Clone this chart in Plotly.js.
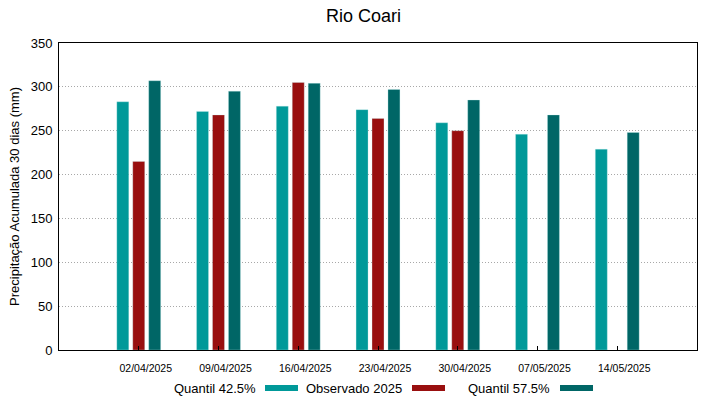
<!DOCTYPE html>
<html>
<head>
<meta charset="utf-8">
<script src="https://cdn.plot.ly/plotly-3.0.1.min.js"></script>
<style>html,body{margin:0;padding:0;background:#fff;}#chart{width:719px;height:399px;}</style>
</head>
<body>
<div id="chart"></div>
<script>
const dates = ["02/04/2025","09/04/2025","16/04/2025","23/04/2025","30/04/2025","07/05/2025","14/05/2025"];
const positions = [1,2,3,4,5,6,7];
const q425 = [283, 272, 278, 274, 259, 246, 229];
const obs2025 = [215, 268, 305, 264, 250, null, null];
const q575 = [307, 295, 304, 297, 285, 268, 248];
const names = ["Quantil 42.5%", "Observado 2025", "Quantil 57.5%"];
const colors = ["#009999", "#990f0f", "#006666"];
const seriesList = [q425, obs2025, q575];

const traces = seriesList.map((s, i) => ({
  type: 'bar', x: positions, y: s, name: names[i],
  marker: {color: colors[i], line: {color: 'rgba(200,240,240,0.6)', width: 0.5}},
  hoverinfo: 'y'
}));

const FONT = 'Liberation Sans, Arial, sans-serif';
const annotations = [{
  text: 'Rio Coari', xref: 'paper', yref: 'paper', x: 0.477, y: 1, yshift: 27,
  xanchor: 'center', yanchor: 'middle', showarrow: false,
  font: {family: FONT, size: 18, color: '#000'}
}];
const shapes = [];
const legendTextRight = [258, 404, 552];
const swatchX = [[265, 298], [412, 445], [560, 593]];
const W = 719, L = 59, R = 22, T = 43, B = 49;
const pw = W - L - R;
const ph = 399 - T - B;
function px2paperX(px){ return (px - L) / pw; }
function py2paperY(py){ return (399 - B - py) / ph; }
for (let i = 0; i < 3; i++) {
  annotations.push({
    text: names[i], xref: 'paper', yref: 'paper',
    x: px2paperX(legendTextRight[i]), y: py2paperY(388),
    xanchor: 'right', yanchor: 'middle', showarrow: false,
    font: {family: FONT, size: 13, color: '#000'}
  });
  shapes.push({
    type: 'rect', xref: 'paper', yref: 'paper',
    x0: px2paperX(swatchX[i][0]), x1: px2paperX(swatchX[i][1]),
    y0: py2paperY(385), y1: py2paperY(391),
    fillcolor: colors[i], line: {width: 0}
  });
}

const layout = {
  width: 719, height: 399,
  margin: {l: L, r: R, t: T, b: B},
  paper_bgcolor: '#fff', plot_bgcolor: '#fff',
  barmode: 'group', bargap: 0.4, bargroupgap: 0.25,
  showlegend: false,
  font: {family: FONT, color: '#000'},
  xaxis: {
    range: [0, 8], tickmode: 'array', tickvals: positions, ticktext: dates,
    ticks: 'inside', ticklen: 4, tickcolor: '#000', ticklabelshift: 7, ticklabelstandoff: 8,
    showgrid: false, zeroline: false,
    showline: true, linecolor: '#000', linewidth: 1, mirror: true,
    tickfont: {family: FONT, size: 10.5, color: '#000'}
  },
  yaxis: {
    range: [0, 350], tickvals: [0,50,100,150,200,250,300,350],
    ticks: '', ticklabelstandoff: 3,
    showgrid: true, gridcolor: '#a8a8a8', griddash: '1px,2px', gridwidth: 1,
    zeroline: false, showline: true, linecolor: '#000', linewidth: 1, mirror: true,
    tickfont: {family: FONT, size: 13, color: '#000'},
    title: {text: 'Precipitação Acumulada 30 dias (mm)', font: {family: FONT, size: 13, color: '#000'}, standoff: 8}
  },
  annotations: annotations,
  shapes: shapes
};

Plotly.newPlot('chart', traces, layout, {displayModeBar: false, staticPlot: true});
</script>
</body>
</html>
